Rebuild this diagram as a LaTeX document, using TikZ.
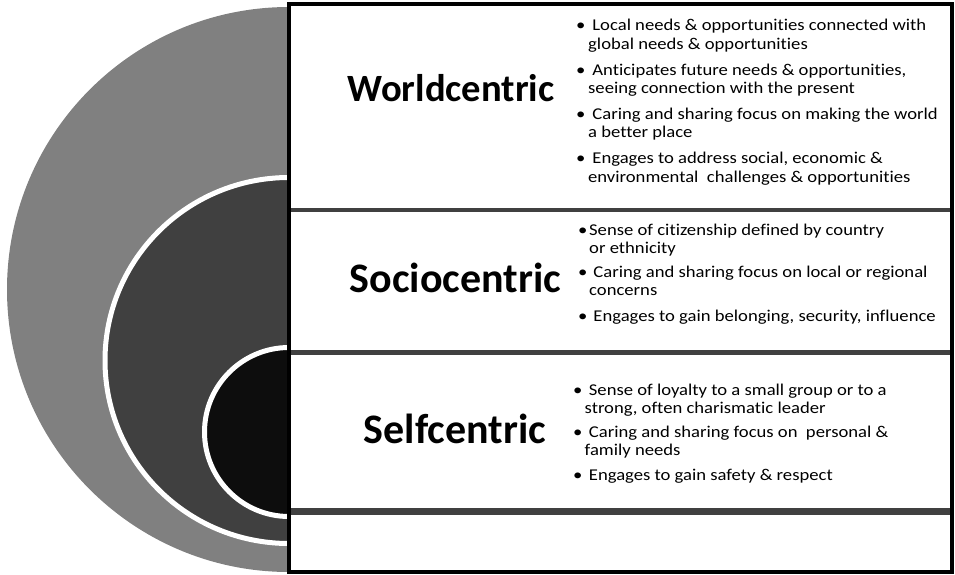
\documentclass[tikz,border=0pt]{standalone}
\usepackage{fontspec}
\setmainfont{Carlito}
\newfontfamily\bodyfont[FakeStretch=1.13, Ligatures=NoCommon]{Carlito}
\definecolor{ringA}{RGB}{128,128,128}
\definecolor{ringB}{RGB}{64,64,64}
\definecolor{ringC}{RGB}{13,13,13}
\definecolor{divc}{RGB}{64,64,64}
\newcommand\bulW[1]{\makebox[#1pt][l]{•}}
\begin{document}
\begin{tikzpicture}[x=1pt,y=-1pt,
  title/.style={font=\bfseries\fontsize{42}{48}\selectfont, anchor=base, inner sep=0},
  txtline/.style={font=\bodyfont\fontsize{16.5}{18}\selectfont, anchor=base west, inner sep=0},
  ring/.style={draw=white, line width=5pt}]
\useasboundingbox (0,0) rectangle (955,575);
% rings
\fill[ringA] (289,289.5) ellipse [x radius=282pt, y radius=282.5pt];
\filldraw[ring, fill=ringB] (289,360.5) ellipse [x radius=184pt, y radius=183pt];
\filldraw[ring, fill=ringC] (289,432) ellipse [x radius=84.5pt, y radius=84.5pt];
% box
\coordinate (tl) at (289,4);
\coordinate (br) at (952,572);
\fill[white] (tl) rectangle (br);
\coordinate (d1l) at (289,209.5); \coordinate (d1r) at (952,209.5);
\coordinate (d2l) at (289,352.5); \coordinate (d2r) at (952,352.5);
\coordinate (d3l) at (289,511.5); \coordinate (d3r) at (952,511.5);
\draw[divc, line width=4pt] (d1l) -- (d1r);
\draw[divc, line width=4.5pt] (d2l) -- (d2r);
\draw[divc, line width=6.5pt] (d3l) -- (d3r);
\draw[black, line width=4pt] (tl) rectangle (br);
% titles
\node[title, font=\bfseries\fontsize{38.6}{44}\selectfont] (world) at (451,102) {Worldcentric};
\node[title] (socio) at (455.5,292) {Sociocentric};
\node[title] (self) at (455,443) {Selfcentric};
% worldcentric bullets
\node[txtline] (w1) at (576,31) {\bulW{12}\ Local needs \& opportunities connected with};
\node[txtline] (w2) at (588,49.3) {global needs \& opportunities};
\node[txtline] (w3) at (576,75.3) {\bulW{12}\ Anticipates future needs \& opportunities,};
\node[txtline] (w4) at (588,93.6) {seeing connection with the present};
\node[txtline] (w5) at (576,119.6) {\bulW{12}\ Caring and sharing focus on making the world};
\node[txtline] (w6) at (588,137.9) {a better place};
\node[txtline] (w7) at (576,163.9) {\bulW{12}\ Engages to address social, economic \&};
\node[txtline] (w8) at (588,182.2) {environmental\ \ challenges \& opportunities};
% sociocentric bullets
\node[txtline] (s1) at (578,235) {\bulW{11}Sense of citizenship defined by country};
\node[txtline] (s2) at (589,253.3) {or ethnicity};
\node[txtline] (s3) at (578,277) {\bulW{11}\ Caring and sharing focus on local or regional};
\node[txtline] (s4) at (589,295.3) {concerns};
\node[txtline] (s5) at (578,321) {\bulW{11}\ Engages to gain belonging, security, influence};
% selfcentric bullets
\node[txtline] (f1) at (573,395) {\bulW{11.5}\ Sense of loyalty to a small group or to a};
\node[txtline] (f2) at (584.5,413.3) {strong, often charismatic leader};
\node[txtline] (f3) at (573,437.5) {\bulW{11.5}\ Caring and sharing focus on\ \ personal \&};
\node[txtline] (f4) at (584.5,455.8) {family needs};
\node[txtline] (f5) at (573,480) {\bulW{11.5}\ Engages to gain safety \& respect};
\end{tikzpicture}
\end{document}
